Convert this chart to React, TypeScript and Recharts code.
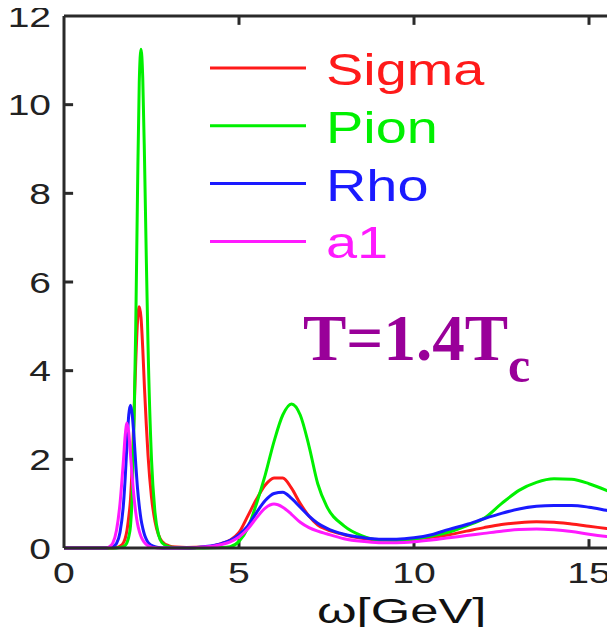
import React from 'react';
import { LineChart, Line, XAxis, YAxis, Legend, Label, ReferenceLine } from 'recharts';

// spectral functions above Tc, sampled on a non-uniform omega grid (GeV)
const omega = [
  0, 0.5, 1.0, 1.2, 1.3, 1.4, 1.5, 1.6, 1.7, 1.75,
  1.8, 1.85, 1.9, 1.95, 2.0, 2.05, 2.1, 2.15, 2.2, 2.25,
  2.3, 2.35, 2.4, 2.5, 2.6, 2.7, 2.8, 3.0, 3.2, 3.5,
  4.0, 4.5, 4.75, 5.0, 5.25, 5.5, 5.75, 6.0, 6.25, 6.5,
  6.75, 7.0, 7.25, 7.5, 8.0, 8.5, 9.0, 9.5, 10.0, 10.5,
  11.0, 11.5, 12.0, 12.5, 13.0, 13.5, 14.0, 14.5, 15.0, 15.5,
  16.0,
];

const sigma = [
  0, 0, 0, 0, 0, 0, 0.01, 0.04, 0.12, 0.22,
  0.4, 0.7, 1.1, 1.9, 3.0, 4.2, 5.1, 5.44, 5.2, 4.5,
  3.6, 2.8, 2.1, 1.15, 0.6, 0.3, 0.15, 0.05, 0.02, 0.01,
  0.02, 0.1, 0.18, 0.35, 0.72, 1.1, 1.42, 1.58, 1.58, 1.35,
  1.0, 0.72, 0.52, 0.42, 0.3, 0.22, 0.18, 0.18, 0.2, 0.24,
  0.3, 0.38, 0.46, 0.53, 0.57, 0.59, 0.58, 0.54, 0.49, 0.44,
  0.39,
];

const pion = [
  0, 0, 0, 0, 0, 0, 0, 0.01, 0.03, 0.06,
  0.12, 0.25, 0.5, 1.2, 2.8, 5.0, 8.0, 10.5, 11.25, 10.6,
  8.8, 6.6, 4.6, 2.0, 0.8, 0.3, 0.12, 0.03, 0.01, 0,
  0, 0.01, 0.03, 0.15, 0.45, 1.0, 1.65, 2.4, 3.0, 3.25,
  3.0, 2.3, 1.45, 0.95, 0.5, 0.28, 0.18, 0.17, 0.2, 0.27,
  0.36, 0.5, 0.67, 1.0, 1.3, 1.48, 1.56, 1.55, 1.45, 1.3,
  1.12,
];

const rho = [
  0, 0, 0, 0, 0.01, 0.03, 0.1, 0.35, 1.0, 1.6,
  2.35, 3.0, 3.22, 3.0, 2.5, 1.9, 1.35, 0.95, 0.65, 0.45,
  0.3, 0.2, 0.13, 0.06, 0.03, 0.01, 0, 0, 0, 0,
  0.03, 0.1, 0.17, 0.3, 0.5, 0.8, 1.07, 1.23, 1.26, 1.12,
  0.92, 0.72, 0.56, 0.45, 0.31, 0.24, 0.2, 0.2, 0.23, 0.3,
  0.42, 0.53, 0.66, 0.78, 0.88, 0.94, 0.96, 0.96, 0.92, 0.85,
  0.78,
];

const a1 = [
  0, 0, 0, 0, 0.03, 0.12, 0.4, 1.0, 2.0, 2.55,
  2.82, 2.6, 2.1, 1.6, 1.15, 0.8, 0.55, 0.38, 0.26, 0.18,
  0.12, 0.08, 0.05, 0.02, 0.01, 0, 0, 0, 0, 0,
  0.02, 0.08, 0.14, 0.25, 0.43, 0.68, 0.9, 0.99, 0.92, 0.76,
  0.58, 0.46, 0.38, 0.32, 0.21, 0.15, 0.12, 0.12, 0.14, 0.18,
  0.23, 0.28, 0.33, 0.38, 0.42, 0.43, 0.41, 0.37, 0.31, 0.26,
  0.22,
];

const seriesNames = ['Sigma', 'Pion', 'Rho', 'a1'];
const xTicks = [0, 5, 10, 15];
const yTicks = [0, 2, 4, 6, 8, 10, 12];
const X_MAX = 16;
const Y_MAX = 12;

const data = omega.map((w, i) => ({
  omega: w,
  Sigma: sigma[i],
  Pion: pion[i],
  Rho: rho[i],
  a1: a1[i],
}));

const SANS = '"Liberation Sans", Arial, Helvetica, sans-serif';
const SERIF = '"Liberation Serif", "Times New Roman", serif';
const AXIS_COLOR = '#2a2a2a';
const BOX_WIDTH = 3;
// inward tick length in axis units (~9px)
const X_TICK_LEN = 0.2;
const Y_TICK_LEN = 0.26;

// wide matlab-style sans labels
const XTick = (props: any) => {
  const { x, y, payload } = props;
  return (
    <text
      transform={`translate(${x},${y}) scale(1.35,1)`}
      textAnchor="middle"
      dy="0.71em"
      fontSize={29}
      fill="#222"
      fontFamily={SANS}
    >
      {payload.value}
    </text>
  );
};

const YTick = (props: any) => {
  const { x, y, payload } = props;
  return (
    <text
      transform={`translate(${x},${y}) scale(1.3,1)`}
      textAnchor="end"
      dy="0.355em"
      fontSize={30}
      fill="#222"
      fontFamily={SANS}
    >
      {payload.value}
    </text>
  );
};

const OmegaLabel = (props: any) => {
  const vb = props.viewBox || { x: 64, y: 548 };
  return (
    <text
      transform={`translate(${vb.x + 253},${vb.y + 75}) scale(1.45,1)`}
      fontSize={35}
      fill="#111"
      fontFamily={SANS}
    >
      ω[GeV]
    </text>
  );
};

const SpectralLegend = (props: any) => {
  const { payload = [] } = props;
  const items = seriesNames
    .map((name) => payload.find((p: any) => p.value === name || p.dataKey === name))
    .filter(Boolean);
  return (
    <svg width={615} height={280} style={{ display: 'block' }}>
      {items.map((entry: any, i: number) => {
        const y = 68 + i * 57.8;
        return (
          <g key={entry.value}>
            <line x1={210} x2={306} y1={y} y2={y} stroke={entry.color} strokeWidth={3} />
            <text transform={`translate(326,${y + 17}) scale(1.27,1)`} fontSize={44} fill={entry.color} fontFamily={SANS}>
              {entry.value}
            </text>
          </g>
        );
      })}
    </svg>
  );
};

const innerX = xTicks.filter((t) => t > 0 && t < X_MAX);
const innerY = yTicks.filter((t) => t > 0 && t < Y_MAX);

const App: React.FC = () => {
  return (
    <div style={{ margin: -8, width: 615, height: 635, overflow: 'hidden', position: 'relative', background: '#fff' }}>
      <LineChart width={640} height={635} data={data} margin={{ top: 16, right: 16, bottom: 0, left: 0 }}>
        <XAxis
          dataKey="omega"
          type="number"
          domain={[0, X_MAX]}
          ticks={xTicks}
          height={87}
          tickLine={false}
          tickSize={0}
          tickMargin={14}
          tick={<XTick />}
          stroke={AXIS_COLOR}
          strokeWidth={BOX_WIDTH}
        >
          <Label content={<OmegaLabel />} />
        </XAxis>
        <YAxis
          type="number"
          domain={[0, Y_MAX]}
          ticks={yTicks}
          width={64}
          tickLine={false}
          tickSize={0}
          tickMargin={13}
          tick={<YTick />}
          stroke={AXIS_COLOR}
          strokeWidth={BOX_WIDTH}
        />
        {/* top edge of the box and the inward tick marks */}
        <ReferenceLine y={Y_MAX} stroke={AXIS_COLOR} strokeWidth={BOX_WIDTH} ifOverflow="visible" />
        {innerX.map((t) => (
          <ReferenceLine
            key={`top-${t}`}
            segment={[{ x: t, y: Y_MAX }, { x: t, y: Y_MAX - X_TICK_LEN }]}
            stroke={AXIS_COLOR}
            strokeWidth={BOX_WIDTH}
            ifOverflow="visible"
          />
        ))}
        {innerX.map((t) => (
          <ReferenceLine
            key={`bottom-${t}`}
            segment={[{ x: t, y: 0 }, { x: t, y: X_TICK_LEN }]}
            stroke={AXIS_COLOR}
            strokeWidth={BOX_WIDTH}
            ifOverflow="visible"
          />
        ))}
        {innerY.map((t) => (
          <ReferenceLine
            key={`left-${t}`}
            segment={[{ x: 0, y: t }, { x: Y_TICK_LEN, y: t }]}
            stroke={AXIS_COLOR}
            strokeWidth={BOX_WIDTH}
            ifOverflow="visible"
          />
        ))}
        <Legend
          layout="vertical"
          align="center"
          verticalAlign="middle"
          content={<SpectralLegend />}
          wrapperStyle={{ top: 0, left: 0, width: 615, height: 280, pointerEvents: 'none' }}
        />
        <Line type="monotone" dataKey="Sigma" stroke="#ff1a1a" strokeWidth={3} dot={false} isAnimationActive={false} />
        <Line type="monotone" dataKey="Pion" stroke="#00f000" strokeWidth={3} dot={false} isAnimationActive={false} />
        <Line type="monotone" dataKey="Rho" stroke="#1a1aff" strokeWidth={3} dot={false} isAnimationActive={false} />
        <Line type="monotone" dataKey="a1" stroke="#ff1aff" strokeWidth={3} dot={false} isAnimationActive={false} />
      </LineChart>
      <div
        style={{
          position: 'absolute',
          left: 303,
          top: 300,
          fontFamily: SERIF,
          fontWeight: 'bold',
          fontSize: 65,
          lineHeight: '76px',
          color: '#990099',
          whiteSpace: 'nowrap',
          pointerEvents: 'none',
        }}
      >
        T=1.4T<sub style={{ fontSize: 50, verticalAlign: -22, lineHeight: 0 }}>c</sub>
      </div>
    </div>
  );
};

export default App;
